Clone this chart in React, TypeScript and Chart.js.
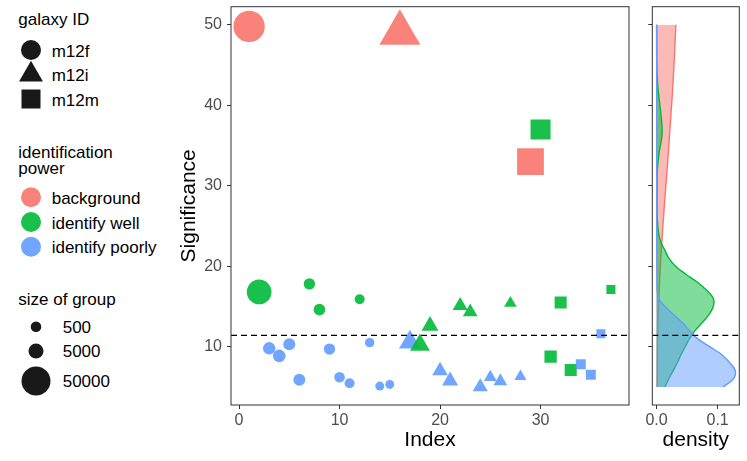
import { useEffect, useRef } from "react";
import Chart from "chart.js/auto";

const FONT = "'Liberation Sans', Arial, Helvetica, sans-serif";
Chart.defaults.font.family = FONT;

// one entry per group, in index order
const groupIndex = [
  1, 2, 3, 4, 5, 6, 7, 8, 9, 10, 11, 12, 13, 14, 15, 16, 17, 18, 19, 20, 21, 22,
  23, 24, 25, 26, 27, 28, 29, 30, 31, 32, 33, 34, 35, 36, 37,
];
const significance = [
  49.8, 16.8, 9.8, 8.85, 10.3, 5.9, 17.8, 14.6, 9.7, 6.2, 5.45, 15.9, 10.5, 5.1,
  5.3, 49.0, 10.55, 10.2, 12.6, 7.0, 5.75, 15.1, 14.3, 5.0, 6.2, 5.7, 15.4, 6.3,
  33.0, 37.0, 8.75, 15.5, 7.1, 7.8, 6.5, 11.6, 17.1,
];
const galaxyId = [
  "m12f", "m12f", "m12f", "m12f", "m12f", "m12f", "m12f", "m12f", "m12f", "m12f",
  "m12f", "m12f", "m12f", "m12f", "m12f",
  "m12i", "m12i", "m12i", "m12i", "m12i", "m12i", "m12i", "m12i", "m12i", "m12i",
  "m12i", "m12i", "m12i",
  "m12m", "m12m", "m12m", "m12m", "m12m", "m12m", "m12m", "m12m", "m12m",
];
const power = [
  "background", "identify well", "identify poorly", "identify poorly",
  "identify poorly", "identify poorly", "identify well", "identify well",
  "identify poorly", "identify poorly", "identify poorly", "identify well",
  "identify poorly", "identify poorly", "identify poorly",
  "background", "identify poorly", "identify well", "identify well",
  "identify poorly", "identify poorly", "identify well", "identify well",
  "identify poorly", "identify poorly", "identify poorly", "identify well",
  "identify poorly",
  "background", "identify well", "identify well", "identify well",
  "identify well", "identify poorly", "identify poorly", "identify poorly",
  "identify well",
];
const groupSize = [
  62000, 31000, 1760, 1950, 1420, 1420, 965, 1100, 965, 500, 250, 250, 85, 25, 10,
  57000, 7000, 4650, 1950, 1100, 1340, 835, 640, 835, 130, 320, 85, 20,
  56000, 23600, 3400, 3040, 3040, 900, 900, 320, 320,
];

const threshold = 11.4;

// density curves
const densityLevels = [
  5, 6, 7, 8, 9, 10, 11, 12, 13, 14, 15, 16, 17, 18, 19, 20, 21, 22, 23, 24, 26,
  28, 30, 32, 34, 36, 37, 38, 40, 42, 44, 46, 48, 50,
];
const densityBackground = [
  0.001, 0.0011, 0.0012, 0.0013, 0.0014, 0.0015, 0.0018, 0.002, 0.0024, 0.0028,
  0.0033, 0.0038, 0.0043, 0.0049, 0.0055, 0.0062, 0.007, 0.0078, 0.0087, 0.0095,
  0.0113, 0.0132, 0.0152, 0.0172, 0.0192, 0.021, 0.0219, 0.0228, 0.0246, 0.0263,
  0.0278, 0.0292, 0.0304, 0.0316,
];
const densityWell = [
  0.0136, 0.02, 0.027, 0.034, 0.04, 0.047, 0.054, 0.063, 0.075, 0.086, 0.093,
  0.093, 0.082, 0.067, 0.048, 0.031, 0.02, 0.0135, 0.007, 0.0035, 0.0012, 0.0008,
  0.0009, 0.0013, 0.004, 0.0085, 0.0091, 0.0083, 0.0055, 0.0025, 0.0008, 0.0002,
  0.0001, 0,
];
const densityPoorly = [
  0.109, 0.126, 0.129, 0.12, 0.107, 0.087, 0.067, 0.054, 0.042, 0.028, 0.0137,
  0.0035, 0.001, 0.0006, 0.0005, 0.0004, 0.0004, 0.0003, 0.0003, 0.0003, 0.0003,
  0.0003, 0.0003, 0.0003, 0.0003, 0.0003, 0.0003, 0.0003, 0.0002, 0.0002, 0.0002,
  0.0002, 0.0002, 0.0002,
];

const indexTicks = [0, 10, 20, 30];
const significanceTicks = [10, 20, 30, 40, 50];
const densityTicks = [0, 0.1];

const galaxies = ["m12f", "m12i", "m12m"];
const powers = ["background", "identify well", "identify poorly"];
const sizeBreaks = [500, 5000, 50000];

const powerColor: Record<string, string> = {
  background: "248, 118, 109",
  "identify well": "0, 186, 56",
  "identify poorly": "97, 156, 255",
};
const pointStyleOf: Record<string, "circle" | "triangle" | "rect"> = {
  m12f: "circle",
  m12i: "triangle",
  m12m: "rect",
};
// chart.js radius that gives the same area as a circle
const shapeScale: Record<string, number> = { m12f: 1, m12i: 1.555, m12m: 1.253 };
const sizeToRadius = (n: number) => 4.28 + 0.0457 * Math.sqrt(n);

const Y_MIN = 2.75;
const Y_MAX = 52.25;

const tickFont = { size: 16 };
const titleFont = { size: 21 };

const panelBorder = {
  id: "panelBorder",
  afterDraw(chart: Chart) {
    const { ctx, chartArea: a } = chart;
    ctx.save();
    ctx.strokeStyle = "#333333";
    ctx.lineWidth = 1;
    ctx.strokeRect(a.left, a.top, a.right - a.left, a.bottom - a.top);
    ctx.restore();
  },
};

const thresholdLine = {
  id: "thresholdLine",
  afterDatasetsDraw(chart: Chart) {
    const { ctx, chartArea: a, scales } = chart;
    const y = scales.y.getPixelForValue(threshold);
    ctx.save();
    ctx.beginPath();
    ctx.rect(a.left, a.top, a.right - a.left, a.bottom - a.top);
    ctx.clip();
    ctx.strokeStyle = "#000000";
    ctx.lineWidth = 1.4;
    ctx.setLineDash([6, 4]);
    ctx.beginPath();
    ctx.moveTo(a.left, y);
    ctx.lineTo(a.right, y);
    ctx.stroke();
    ctx.restore();
  },
};

// keep the panel edges where the layout puts them
const fixSize = (w: number | null, h: number | null) => (s: any) => {
  if (w !== null) s.width = w;
  if (h !== null) s.height = h;
  s.paddingTop = 0;
  s.paddingBottom = 0;
  s.paddingLeft = 0;
  s.paddingRight = 0;
};

function Legend() {
  const text = { fontFamily: FONT, fontSize: 17, fill: "#000000" };
  const sizeRows = [326.7, 351, 381];
  return (
    <svg
      width={170}
      height={461}
      style={{ position: "absolute", left: 0, top: 0 }}
    >
      <text x={18.3} y={24.7} {...text}>galaxy ID</text>
      {galaxies.map((g, i) => {
        const cy = 50 + i * 24.5;
        let shape;
        if (pointStyleOf[g] === "circle") {
          shape = <circle cx={31} cy={cy} r={10} fill="#000" fillOpacity={0.9} />;
        } else if (pointStyleOf[g] === "triangle") {
          const r = 13.8;
          const hw = r * 0.866;
          shape = (
            <polygon
              points={`31,${cy - r} ${31 + hw},${cy + r / 2} ${31 - hw},${cy + r / 2}`}
              fill="#000"
              fillOpacity={0.9}
            />
          );
        } else {
          shape = (
            <rect x={21.5} y={cy - 9.5} width={19} height={19} fill="#000" fillOpacity={0.9} />
          );
        }
        return (
          <g key={g}>
            {shape}
            <text x={51.7} y={cy + 6.5} {...text}>{g}</text>
          </g>
        );
      })}

      <text x={18.3} y={158} {...text}>identification</text>
      <text x={18.3} y={174} {...text}>power</text>
      {powers.map((p, i) => {
        const cy = 197.3 + i * 24.7;
        return (
          <g key={p}>
            <circle cx={31} cy={cy} r={10} fill={`rgba(${powerColor[p]}, 0.9)`} />
            <text x={51.7} y={cy + 6.5} {...text}>{p}</text>
          </g>
        );
      })}

      <text x={18.3} y={304.7} {...text}>size of group</text>
      {sizeBreaks.map((s, i) => (
        <g key={s}>
          <circle cx={36} cy={sizeRows[i]} r={sizeToRadius(s)} fill="#000" fillOpacity={0.9} />
          <text x={62.7} y={sizeRows[i] + 6.2} {...text}>{s}</text>
        </g>
      ))}
    </svg>
  );
}

export default function App() {
  const mainRef = useRef<HTMLCanvasElement>(null);
  const densRef = useRef<HTMLCanvasElement>(null);

  useEffect(() => {
    if (!mainRef.current || !densRef.current) return;

    const axisGrid = {
      display: true,
      drawOnChartArea: false,
      drawTicks: true,
      tickLength: 4,
      color: "#333333",
      lineWidth: 1,
    };

    const main = new Chart(mainRef.current, {
      type: "scatter",
      data: {
        datasets: [
          {
            data: groupIndex.map((x, i) => ({ x, y: significance[i] })),
            pointStyle: (c: any) => pointStyleOf[galaxyId[c.dataIndex]],
            pointRadius: (c: any) =>
              sizeToRadius(groupSize[c.dataIndex]) * shapeScale[galaxyId[c.dataIndex]],
            pointHoverRadius: (c: any) =>
              sizeToRadius(groupSize[c.dataIndex]) * shapeScale[galaxyId[c.dataIndex]],
            backgroundColor: (c: any) => `rgba(${powerColor[power[c.dataIndex]]}, 0.9)`,
            pointBorderWidth: 0,
            borderWidth: 0,
          },
        ],
      },
      options: {
        animation: false,
        responsive: false,
        layout: {
          autoPadding: false,
          padding: { top: 6.7, right: 3, left: 0, bottom: 0 },
        },
        plugins: { legend: { display: false }, tooltip: { enabled: false } },
        scales: {
          x: {
            type: "linear",
            min: -0.8,
            max: 38.8,
            afterBuildTicks: (s: any) => {
              s.ticks = indexTicks.map((value) => ({ value }));
            },
            afterFit: fixSize(null, 56),
            grid: axisGrid,
            border: { display: false },
            ticks: { color: "#4D4D4D", font: tickFont, padding: 2, maxRotation: 0 },
            title: {
              display: true,
              text: "Index",
              color: "#000000",
              font: titleFont,
              padding: { top: 0, bottom: 7.9 },
            },
          },
          y: {
            type: "linear",
            min: Y_MIN,
            max: Y_MAX,
            afterBuildTicks: (s: any) => {
              s.ticks = significanceTicks.map((value) => ({ value }));
            },
            afterFit: fixSize(61, null),
            grid: axisGrid,
            border: { display: false },
            ticks: { color: "#4D4D4D", font: tickFont, padding: 5 },
            title: {
              display: true,
              text: "Significance",
              color: "#000000",
              font: titleFont,
              padding: { top: 6.4, bottom: 0 },
            },
          },
        },
      },
      plugins: [thresholdLine, panelBorder],
    });

    const series = [
      { label: "background", values: densityBackground, order: 3 },
      { label: "identify well", values: densityWell, order: 2 },
      { label: "identify poorly", values: densityPoorly, order: 1 },
    ];

    const density = new Chart(densRef.current, {
      type: "line",
      data: {
        datasets: series.map((s) => ({
          label: s.label,
          order: s.order,
          data: densityLevels.map((y, i) => ({ x: s.values[i], y })),
          borderColor: `rgb(${powerColor[s.label]})`,
          backgroundColor: `rgba(${powerColor[s.label]}, 0.5)`,
          borderWidth: 1.4,
          fill: "origin",
          pointRadius: 0,
          tension: 0.4,
        })),
      },
      options: {
        animation: false,
        responsive: false,
        indexAxis: "y",
        layout: {
          autoPadding: false,
          padding: { top: 6.7, right: 7.7, left: 0, bottom: 0 },
        },
        plugins: { legend: { display: false }, tooltip: { enabled: false } },
        scales: {
          x: {
            type: "linear",
            min: -0.007,
            max: 0.1355,
            afterBuildTicks: (s: any) => {
              s.ticks = densityTicks.map((value) => ({ value }));
            },
            afterFit: fixSize(null, 56),
            grid: axisGrid,
            border: { display: false },
            ticks: {
              color: "#4D4D4D",
              font: tickFont,
              padding: 2,
              maxRotation: 0,
              callback: (v: any) => Number(v).toFixed(1),
            },
            title: {
              display: true,
              text: "density",
              color: "#000000",
              font: titleFont,
              padding: { top: 0, bottom: 7.9 },
            },
          },
          y: {
            type: "linear",
            min: Y_MIN,
            max: Y_MAX,
            afterBuildTicks: (s: any) => {
              s.ticks = significanceTicks.map((value) => ({ value }));
            },
            afterFit: fixSize(20.3, null),
            grid: axisGrid,
            border: { display: false },
            ticks: { callback: () => "", padding: 0 },
          },
        },
      },
      plugins: [thresholdLine, panelBorder],
    });

    return () => {
      main.destroy();
      density.destroy();
    };
  }, []);

  return (
    <div
      style={{
        position: "absolute",
        left: 0,
        top: 0,
        width: 747,
        height: 461,
        background: "#ffffff",
        overflow: "hidden",
      }}
    >
      <Legend />
      <div style={{ position: "absolute", left: 170, top: 0 }}>
        <canvas ref={mainRef} width={462} height={461} />
      </div>
      <div style={{ position: "absolute", left: 632, top: 0 }}>
        <canvas ref={densRef} width={115} height={461} />
      </div>
    </div>
  );
}
